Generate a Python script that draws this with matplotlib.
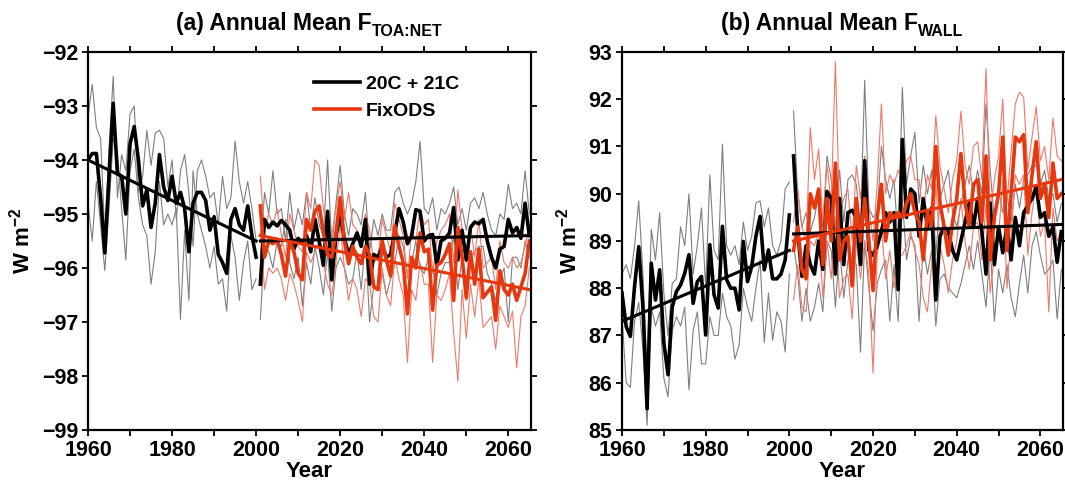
import numpy as np
import matplotlib
matplotlib.use("Agg")
import matplotlib.pyplot as plt
from matplotlib.lines import Line2D
from matplotlib.ticker import MultipleLocator
from matplotlib.transforms import offset_copy

plt.rcParams['font.family'] = ['Liberation Sans', 'DejaVu Sans']
plt.rcParams['font.weight'] = 'bold'
plt.rcParams['mathtext.fontset'] = 'custom'
plt.rcParams['mathtext.rm'] = 'Liberation Sans:bold'
plt.rcParams['mathtext.bf'] = 'Liberation Sans:bold'
plt.rcParams['mathtext.default'] = 'bf'

years_20c = np.arange(1960, 2001)
years_21c = np.arange(2001, 2066)

# ---- panel (a): TOA net flux ----
toa_20c_mean = [-94.00, -93.88, -93.88, -94.70, -95.72, -94.30, -92.95, -94.25, -94.30, -95.00,
                -93.70, -93.38, -94.00, -94.85, -94.55, -95.25, -94.80, -93.90, -94.50, -94.75,
                -94.30, -94.80, -94.60, -94.90, -95.70, -94.80, -94.60, -94.60, -94.75, -95.30,
                -95.05, -95.75, -95.90, -96.10, -95.10, -94.90, -95.20, -95.30, -94.85, -95.40,
                -95.80]
toa_20c_m1 = [-93.2, -92.6, -93.4, -93.6, -95.4, -93.8, -92.45, -94.7, -93.9, -94.2,
              -93.15, -93.0, -94.6, -94.3, -93.45, -94.1, -93.5, -93.45, -93.6, -94.5,
              -94.0, -95.1, -94.2, -93.9, -94.6, -95.6, -94.2, -94.0, -94.3, -94.7,
              -94.6, -95.2, -94.3, -94.9, -94.7, -93.65, -94.4, -94.8, -94.4, -94.9,
              -95.5]
toa_20c_m2 = [-94.8, -95.5, -94.4, -95.2, -96.05, -94.9, -93.6, -93.9, -94.9, -95.85,
              -94.2, -93.8, -94.7, -95.2, -95.4, -96.3, -95.7, -94.4, -95.2, -95.0,
              -95.2, -94.9, -96.95, -95.3, -96.6, -94.2, -95.0, -95.3, -95.6, -96.0,
              -95.6, -96.3, -96.2, -96.8, -95.4, -95.8, -96.6, -95.9, -95.5, -96.4,
              -96.2]
toa_21c_mean = [-96.30, -95.10, -95.25, -95.15, -95.22, -95.12, -95.20, -95.30, -95.65, -95.45,
                -95.55, -95.40, -95.70, -95.10, -95.50, -95.95, -94.95, -96.22, -95.40, -95.00,
                -95.45, -95.75, -95.55, -95.35, -95.60, -95.10, -96.30, -95.75, -95.80, -95.60,
                -95.80, -95.75, -95.35, -94.90, -95.15, -95.55, -95.40, -94.92, -94.95, -95.50,
                -95.40, -95.38, -95.95, -95.50, -95.45, -95.35, -94.88, -95.85, -95.30, -95.85,
                -95.25, -95.15, -95.18, -95.10, -95.50, -95.80, -96.00, -95.65, -95.60, -95.10,
                -95.35, -95.25, -95.45, -94.80, -95.40]
toa_21c_m1 = [-95.8, -94.6, -95.0, -94.2, -95.0, -94.9, -95.5, -94.6, -95.3, -94.9,
              -95.2, -94.6, -95.3, -94.7, -95.2, -95.4, -94.0, -95.6, -94.8, -94.1,
              -95.0, -95.4, -94.9, -95.0, -95.2, -94.6, -95.7, -95.1, -95.4, -95.0,
              -95.3, -95.3, -94.6, -94.5, -94.8, -95.0, -94.8, -94.4, -93.65, -94.9,
              -95.0, -94.7, -95.3, -94.9, -95.0, -94.8, -94.5, -95.2, -94.9, -95.3,
              -94.8, -94.7, -94.9, -94.6, -95.0, -95.3, -95.4, -95.0, -95.1, -94.45,
              -94.9, -94.8, -95.0, -94.2, -95.0]
toa_21c_m2 = [-96.95, -95.6, -95.7, -96.0, -95.5, -95.6, -95.1, -95.9, -96.2, -95.8,
              -96.7, -95.9, -96.3, -95.6, -96.0, -96.5, -95.7, -96.8, -96.0, -95.8,
              -96.0, -96.3, -96.2, -95.7, -96.4, -95.5, -97.0, -96.3, -96.4, -96.1,
              -96.5, -96.2, -95.9, -95.4, -95.6, -96.1, -95.9, -95.5, -96.0, -96.1,
              -95.8, -96.0, -96.5, -96.1, -95.9, -95.9, -95.4, -96.4, -95.8, -96.6,
              -95.8, -95.7, -95.6, -95.6, -96.1, -96.3, -96.6, -96.2, -96.0, -97.0,
              -95.8, -95.8, -96.0, -95.5, -95.8]
toa_fix_mean = [-94.85, -95.80, -95.50, -95.55, -95.48, -95.75, -96.15, -95.50, -95.70, -96.10,
                -96.22, -95.10, -95.30, -94.95, -94.85, -95.35, -95.75, -95.80, -95.35, -94.70,
                -95.50, -95.92, -95.60, -95.80, -95.92, -95.60, -95.75, -96.35, -96.40, -95.50,
                -95.86, -96.15, -95.22, -95.60, -95.90, -96.85, -95.80, -96.00, -95.35, -95.70,
                -95.65, -96.78, -95.95, -95.90, -95.75, -95.55, -96.60, -95.25, -95.80, -96.55,
                -95.70, -96.30, -95.65, -96.55, -96.45, -96.35, -96.97, -96.05, -96.40, -96.50,
                -96.30, -96.60, -96.35, -96.10, -95.50]
toa_fix_m1 = [-94.3, -95.3, -95.0, -95.2, -94.9, -95.4, -95.8, -95.0, -95.3, -95.6,
              -95.7, -94.6, -94.9, -94.0, -94.1, -94.9, -95.3, -95.4, -94.9, -94.4,
              -95.1, -94.6, -95.2, -95.3, -95.5, -95.0, -95.3, -95.9, -95.8, -95.1,
              -95.4, -95.7, -94.8, -95.1, -95.4, -96.2, -95.3, -95.5, -94.9, -95.2,
              -95.1, -96.1, -95.5, -95.3, -95.2, -95.0, -95.9, -94.55, -95.3, -95.9,
              -95.2, -95.8, -95.1, -96.0, -95.9, -95.8, -96.4, -95.5, -95.9, -96.0,
              -95.8, -96.0, -95.9, -95.6, -95.2]
toa_fix_m2 = [-95.3, -96.4, -96.0, -96.1, -96.0, -96.2, -96.6, -96.1, -96.3, -96.6,
              -97.0, -95.7, -95.9, -95.7, -95.5, -95.9, -96.3, -96.5, -95.9, -95.2,
              -96.0, -96.6, -96.2, -96.4, -96.9, -96.2, -96.3, -96.9, -97.0, -96.0,
              -96.5, -96.7, -95.8, -96.2, -96.5, -97.75, -96.4, -96.6, -95.9, -96.3,
              -96.3, -97.75, -96.5, -96.6, -96.4, -96.1, -97.2, -98.1, -96.4, -97.3,
              -96.3, -96.9, -96.2, -97.1, -97.0, -96.9, -97.5, -96.7, -96.9, -97.1,
              -96.8, -97.85, -96.9, -96.7, -96.0]
toa_trend_20c = [-94.0, -95.5]
toa_trend_21c = [-95.5, -95.4]
toa_trend_fix = [-95.4, -96.4]

# ---- panel (b): F_WALL ----
wall_20c_mean = [87.90, 87.19, 86.98, 88.04, 88.88, 87.60, 85.45, 88.53, 87.75, 88.39,
                 86.84, 86.17, 87.60, 87.93, 88.07, 88.32, 88.71, 87.68, 88.14, 88.25,
                 87.01, 88.92, 87.86, 87.58, 89.31, 88.18, 88.00, 88.00, 87.54, 88.99,
                 88.14, 88.46, 89.10, 89.52, 88.39, 88.81, 88.20, 88.20, 88.30, 88.60,
                 89.55]
wall_20c_m1 = [88.3, 88.5, 88.2, 88.9, 89.85, 88.3, 86.2, 89.25, 88.6, 89.6,
               87.9, 87.0, 88.1, 88.2, 89.3, 88.9, 90.0, 88.3, 88.9, 89.7,
               88.0, 90.4, 88.8, 88.6, 91.05, 88.9, 88.7, 88.9, 88.5, 89.4,
               88.8, 89.1, 89.8, 89.85, 89.3, 89.7, 88.9, 88.7, 89.0, 90.1,
               90.25]
wall_20c_m2 = [87.4, 86.0, 85.9, 87.3, 87.7, 86.7, 85.1, 87.6, 87.2, 87.5,
               86.1, 85.7, 87.1, 87.4, 87.2, 87.6, 85.85, 87.1, 87.5, 86.4,
               86.4, 87.4, 87.0, 87.0, 87.9, 87.4, 87.2, 86.5, 86.8, 88.0,
               87.6, 87.3, 88.0, 88.6, 86.85, 87.9, 86.9, 87.5, 87.3, 86.65,
               88.3]
wall_21c_mean = [90.80, 89.20, 88.25, 88.90, 88.50, 88.30, 89.00, 88.40, 90.05, 89.90,
                 88.30, 89.90, 88.50, 89.60, 89.65, 89.50, 88.50, 90.70, 88.80, 88.70,
                 88.90, 89.20, 89.60, 89.40, 89.60, 87.97, 91.15, 89.50, 90.10, 90.00,
                 89.10, 89.90, 89.30, 89.70, 87.75, 89.10, 89.30, 89.20, 88.80, 88.60,
                 89.00, 89.40, 89.80, 89.30, 89.90, 89.20, 88.30, 89.80, 88.50, 89.30,
                 88.75, 89.30, 88.60, 89.50, 88.90, 89.60, 89.75, 89.90, 90.15, 89.50,
                 89.60, 89.10, 89.30, 88.55, 89.20]
wall_21c_m1 = [91.75, 90.0, 89.3, 89.6, 89.2, 89.5, 90.0, 89.3, 90.8, 90.3,
               89.2, 90.5, 89.4, 90.3, 90.4, 90.2, 89.3, 92.4, 89.7, 89.5,
               89.6, 91.0, 90.3, 89.9, 90.3, 89.0, 92.25, 90.2, 90.8, 91.3,
               89.8, 90.6, 90.0, 90.5, 88.7, 89.9, 90.2, 90.5, 89.6, 89.3,
               89.8, 90.2, 90.6, 90.0, 90.5, 90.0, 91.9, 90.5, 89.4, 90.1,
               89.6, 90.0, 89.4, 90.2, 89.7, 90.3, 90.4, 90.6, 90.6, 90.2,
               90.5, 89.9, 90.0, 89.4, 89.8]
wall_21c_m2 = [88.9, 88.3, 87.3, 88.0, 87.3, 87.6, 88.1, 87.5, 89.0, 88.8,
               87.6, 88.9, 87.8, 88.6, 88.7, 88.5, 86.65, 89.0, 88.0, 87.1,
               88.1, 88.4, 88.6, 87.3, 88.5, 87.3, 89.9, 88.6, 89.1, 88.9,
               87.3, 88.9, 88.3, 88.8, 87.2, 88.2, 88.3, 88.0, 87.9, 87.8,
               88.1, 88.5, 88.9, 88.4, 89.0, 88.3, 87.6, 88.9, 87.3, 88.4,
               87.9, 88.5, 87.8, 87.4, 88.1, 88.7, 87.9, 88.9, 89.2, 88.7,
               88.3, 88.4, 88.6, 87.35, 88.4]
wall_fix_mean = [88.80, 89.30, 88.40, 88.20, 90.00, 89.70, 90.10, 88.50, 89.90, 89.00,
                 90.65, 88.60, 89.00, 89.10, 88.05, 89.90, 89.00, 89.90, 89.00, 87.95,
                 89.50, 90.20, 89.00, 89.60, 89.50, 89.60, 89.50, 89.80, 90.00, 89.60,
                 89.40, 88.60, 89.60, 89.30, 91.00, 89.80, 89.30, 88.70, 89.40, 89.90,
                 90.85, 89.80, 89.30, 90.20, 90.30, 89.40, 90.80, 88.60, 89.50, 90.00,
                 91.20, 88.80, 90.00, 91.20, 91.10, 91.25, 89.60, 90.40, 91.10, 89.90,
                 90.20, 89.50, 90.65, 89.90, 90.00]
wall_fix_m1 = [89.4, 90.1, 89.3, 89.0, 91.4, 90.3, 90.95, 89.4, 90.6, 89.8,
               92.8, 89.6, 89.9, 90.1, 89.0, 90.6, 89.9, 90.8, 89.7, 89.0,
               90.2, 91.9, 90.0, 90.4, 90.2, 90.5, 90.3, 90.7, 90.8, 90.3,
               90.3, 89.5, 90.4, 90.1, 91.65, 90.6, 90.1, 89.6, 90.3, 90.7,
               91.75, 90.6, 90.2, 91.0, 91.1, 90.3, 92.65, 89.6, 90.3, 90.8,
               92.0, 89.8, 90.9, 91.9, 92.15, 92.05, 90.5, 91.2, 91.85, 90.7,
               91.0, 90.3, 91.6, 90.8, 90.7]
wall_fix_m2 = [87.75, 88.5, 87.6, 87.5, 89.0, 88.9, 89.2, 87.8, 89.0, 88.2,
               89.5, 87.8, 88.2, 88.3, 87.35, 89.0, 88.2, 89.0, 88.3, 86.2,
               88.7, 89.3, 88.2, 88.8, 88.0, 88.7, 88.7, 88.9, 89.2, 88.8,
               88.5, 87.8, 87.5, 88.5, 90.2, 88.9, 88.5, 87.9, 88.6, 89.0,
               89.9, 89.0, 88.4, 89.3, 89.4, 88.6, 89.8, 87.9, 88.7, 89.1,
               90.3, 88.0, 89.1, 90.4, 90.2, 90.4, 88.7, 89.6, 90.2, 89.1,
               89.4, 87.5, 89.7, 89.0, 89.2]
wall_trend_20c = [87.3, 88.8]
wall_trend_21c = [89.15, 89.35]
wall_trend_fix = [89.0, 90.3]

RED = '#e6380f'
RED_THIN = '#f07868'
GRAY = '#7f7f7f'


def draw_panel(ax, m20, a20, b20, m21, a21, b21, mf, af, bf, t20, t21, tf):
    for s in (a20, b20):
        ax.plot(years_20c, s, color=GRAY, lw=0.8)
    for s in (a21, b21):
        ax.plot(years_21c, s, color=GRAY, lw=0.8)
    for s in (af, bf):
        ax.plot(years_21c, s, color=RED_THIN, lw=0.8)
    ax.plot(years_20c, m20, color='black', lw=2.6)
    ax.plot(years_21c, m21, color='black', lw=2.6)
    ax.plot(years_21c, mf, color=RED, lw=2.6)
    ax.plot([years_20c[0], years_20c[-1]], t20, color='black', lw=2.2)
    ax.plot([years_21c[0], years_21c[-1]], t21, color='black', lw=2.2)
    ax.plot([years_21c[0], years_21c[-1]], tf, color=RED, lw=2.2)

    ax.set_xlim(1960, 2065.4)
    ax.xaxis.set_major_locator(MultipleLocator(20))
    ax.xaxis.set_minor_locator(MultipleLocator(10))
    ax.yaxis.set_major_locator(MultipleLocator(1))
    ax.tick_params(which='both', direction='out', top=True, right=True,
                   labelsize=15.5, width=1.3, pad=3)
    ax.tick_params(which='major', length=4)
    ax.tick_params(which='minor', length=4)
    for sp in ax.spines.values():
        sp.set_linewidth(1.6)
    ax.set_xlabel('Year', fontsize=16, fontweight='bold', labelpad=0)
    ax.set_ylabel(r'W m$^{-2}$', fontsize=16, fontweight='bold', labelpad=5)


def panel_title(fig, ax, main, sub):
    # main title text plus a lowered, smaller subscript placed right after it
    pos = ax.get_position()
    xc = (pos.x0 + pos.x1) / 2
    t = fig.text(xc, 1 - 30 / 486, main, fontsize=16.5, fontweight='bold',
                 ha='center', va='baseline')
    s = fig.text(xc, 1 - 30 / 486, sub, fontsize=11.5, fontweight='bold',
                 ha='left', va='baseline')
    fig.canvas.draw()
    r = fig.canvas.get_renderer()
    wm = t.get_window_extent(r).width
    ws = s.get_window_extent(r).width
    shift = (wm + ws) / 2
    t.set_x(xc - (ws / 2) / fig.bbox.width)
    s.set_x(xc + (wm / 2 - ws / 2) / fig.bbox.width)
    s.set_y(1 - 36 / 486)


fig = plt.figure(figsize=(10.65, 4.86), dpi=100)
ax_a = fig.add_axes([88 / 1065, 56 / 486, 443 / 1065, 378 / 486])
ax_b = fig.add_axes([622 / 1065, 56 / 486, 441 / 1065, 378 / 486])

draw_panel(ax_a, toa_20c_mean, toa_20c_m1, toa_20c_m2,
           toa_21c_mean, toa_21c_m1, toa_21c_m2,
           toa_fix_mean, toa_fix_m1, toa_fix_m2,
           toa_trend_20c, toa_trend_21c, toa_trend_fix)
ax_a.set_ylim(-99, -92)

draw_panel(ax_b, wall_20c_mean, wall_20c_m1, wall_20c_m2,
           wall_21c_mean, wall_21c_m1, wall_21c_m2,
           wall_fix_mean, wall_fix_m1, wall_fix_m2,
           wall_trend_20c, wall_trend_21c, wall_trend_fix)
ax_b.set_ylim(85, 93)

handles = [Line2D([], [], color='black', lw=2.6), Line2D([], [], color=RED, lw=2.6)]
ax_a.legend(handles, ['20C + 21C', 'FixODS'], loc='upper left',
            bbox_to_anchor=(0.47, 0.985), frameon=False, handlelength=2.4,
            handletextpad=0.3, labelspacing=0.5,
            prop={'size': 14, 'weight': 'bold'})

panel_title(fig, ax_a, '(a) Annual Mean F', 'TOA:NET')
panel_title(fig, ax_b, '(b) Annual Mean F', 'WALL')

fig.savefig('out.png', dpi=100)
